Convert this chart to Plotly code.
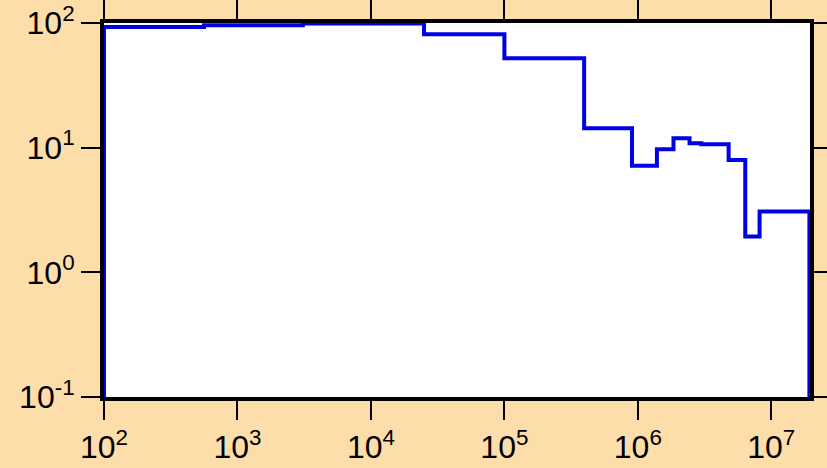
import plotly.graph_objects as go

# bin edges (x) and step values (y)
bin_edges = [100, 562, 3090, 25000, 1.0e5, 3.96e5, 9.04e5, 1.39e6, 1.85e6,
             2.44e6, 2.99e6, 4.79e6, 6.38e6, 8.17e6, 1.93e7]
bin_values = [93, 95.8, 99, 81.2, 52.1, 14.3, 7.17, 9.72, 11.9,
              10.87, 10.67, 7.98, 1.94, 3.07]
floor_value = 0.05

x_tick_vals = [1e2, 1e3, 1e4, 1e5, 1e6, 1e7]
x_tick_text = ["10<sup>2</sup>", "10<sup>3</sup>", "10<sup>4</sup>",
               "10<sup>5</sup>", "10<sup>6</sup>", "10<sup>7</sup>"]
y_tick_vals = [1e-1, 1e0, 1e1, 1e2]
y_tick_text = ["10<sup>-1</sup>", "10<sup>0</sup>", "10<sup>1</sup>", "10<sup>2</sup>"]

xs = [bin_edges[0]] + bin_edges[:-1] + [bin_edges[-1], bin_edges[-1]]
ys = [floor_value] + bin_values + [bin_values[-1], floor_value]

fig = go.Figure()
fig.add_trace(go.Scatter(
    x=xs, y=ys, mode="lines", line_shape="hv",
    line=dict(color="#0000E6", width=4),
    showlegend=False, hoverinfo="skip",
))

bg = "#FDDEAB"
axis_common = dict(
    type="log", showgrid=False, zeroline=False, automargin=False,
    showline=True, linecolor="black", linewidth=4, mirror="ticks",
    ticks="outside", ticklen=19, tickwidth=2, tickcolor="black",
    tickfont=dict(family="Liberation Sans, Arial", size=32, color="black"),
)
fig.update_xaxes(range=[2, 7.29], tickvals=x_tick_vals, ticktext=x_tick_text,
                 **axis_common)
fig.update_yaxes(range=[-1, 2], tickvals=y_tick_vals, ticktext=y_tick_text,
                 **axis_common)

fig.update_layout(
    width=827, height=468,
    margin=dict(l=104, r=17, t=23, b=71),
    paper_bgcolor=bg, plot_bgcolor="white",
)
fig.write_html(
    "out.html",
    config={"displayModeBar": False},
    post_script="document.body.style.margin='0';document.body.style.background='" + bg + "';",
)
